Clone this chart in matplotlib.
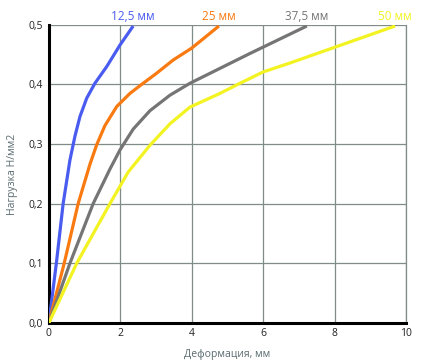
import matplotlib
matplotlib.use("Agg")
from matplotlib import pyplot as plt

plt.rcParams['font.family'] = ['Open Sans', 'DejaVu Sans']

# load (N/mm2) vs deformation (mm) for each thickness
def_125 = [0.0, 0.21, 0.40, 0.59, 0.73, 0.87, 1.06, 1.29, 1.62, 1.99, 2.36]
load_125 = [0.0, 0.10, 0.20, 0.273, 0.313, 0.346, 0.377, 0.402, 0.43, 0.466, 0.498]

def_25 = [0.0, 0.43, 0.82, 1.15, 1.34, 1.57, 1.90, 2.27, 2.64, 3.02, 3.48, 4.00, 4.76]
load_25 = [0.0, 0.10, 0.20, 0.266, 0.299, 0.331, 0.363, 0.385, 0.402, 0.419, 0.441, 0.461, 0.498]

def_375 = [0.0, 0.59, 1.24, 1.71, 1.99, 2.36, 2.83, 3.39, 3.95, 4.79, 5.63, 7.22]
load_375 = [0.0, 0.10, 0.20, 0.258, 0.29, 0.325, 0.356, 0.382, 0.402, 0.427, 0.452, 0.498]

def_50 = [0.0, 0.78, 1.71, 2.22, 2.83, 3.39, 3.95, 4.79, 5.35, 6.00, 6.75, 9.69]
load_50 = [0.0, 0.10, 0.20, 0.253, 0.298, 0.334, 0.362, 0.385, 0.402, 0.421, 0.436, 0.498]

labels = ['12,5 мм', '25 мм', '37,5 мм', '50 мм']
colors = ['#4a5cf0', '#f97a10', '#757575', '#f3f321']

fig = plt.figure(figsize=(4.4, 3.6), dpi=100)
ax = fig.add_axes([0.111, 0.103, 0.812, 0.828])

series = [(def_125, load_125), (def_25, load_25), (def_375, load_375), (def_50, load_50)]
for (x, y), c, lab in zip(series, colors, labels):
    ax.plot(x, y, color=c, lw=2.3, solid_capstyle='butt', solid_joinstyle='round', zorder=3)
    ax.text(x[-1], 0.503, lab, color=c, fontsize=8.5, ha='center', va='bottom')

ax.set_xlim(0, 10)
ax.set_ylim(0, 0.5)
ax.set_xticks([0, 2, 4, 6, 8, 10])
ax.set_yticks([0.0, 0.1, 0.2, 0.3, 0.4, 0.5])
ax.set_yticklabels(['0,0', '0,1', '0,2', '0,3', '0,4', '0,5'])
ax.tick_params(length=0, labelsize=7.5, colors='#222222', pad=4)
ax.grid(True, color='#7f8c88', lw=0.9)
ax.set_axisbelow(True)

for s in ['left', 'bottom']:
    ax.spines[s].set_color('black')
    ax.spines[s].set_linewidth(2.2)
ax.spines['top'].set_visible(False)
ax.spines['right'].set_color('#7f8c88')
ax.spines['right'].set_linewidth(0.9)

ax.set_xlabel('Деформация, мм', fontsize=7.5, color='#5a6b70', labelpad=7)
ax.set_ylabel('Нагрузка Н/мм2', fontsize=7.5, color='#5a6b70', labelpad=8)

fig.savefig('out.png', dpi=100)
